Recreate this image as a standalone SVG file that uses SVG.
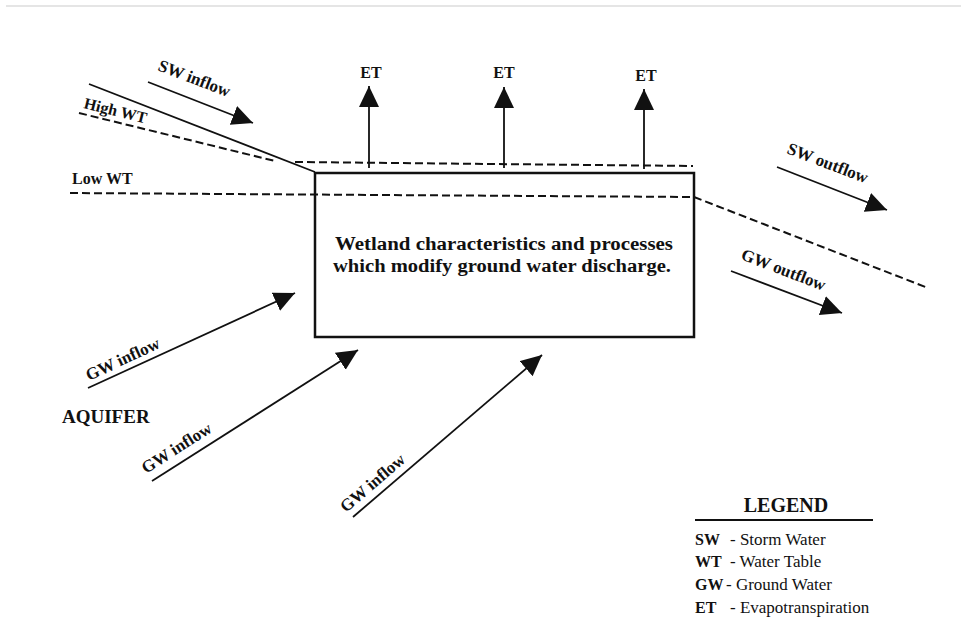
<svg xmlns="http://www.w3.org/2000/svg" width="961" height="635" viewBox="0 0 961 635">
  <style>
    .lbl { font-family: "Liberation Serif", "Times New Roman", serif; font-weight: bold; fill: #111; }
    .txt { font-family: "Liberation Serif", "Times New Roman", serif; fill: #111; }
    .flow { stroke: #111; stroke-width: 1.8; fill: none; marker-end: url(#head); }
    .wt { stroke: #111; stroke-width: 2; fill: none; stroke-dasharray: 8 4; }
    .ground { stroke: #111; stroke-width: 1.8; fill: none; }
  </style>
  <defs>
    <marker id="head" markerUnits="userSpaceOnUse" markerWidth="24" markerHeight="22" refX="21" refY="10" orient="auto">
      <path d="M0,0 L21,10 L0,20 z" fill="#111"/>
    </marker>
  </defs>

  <rect width="961" height="635" fill="#fff"/>
  <line x1="6" y1="6" x2="961" y2="6" stroke="#ddd" stroke-width="1.5"/>

  <!-- water table and land surface lines -->
  <g id="surfaces">
    <line class="ground" x1="89" y1="84" x2="315" y2="172"/>
    <line class="wt" x1="79" y1="113" x2="275" y2="161"/>
    <line class="wt" x1="295" y1="162" x2="693" y2="166"/>
    <line class="wt" x1="70" y1="193" x2="694" y2="197"/>
    <line class="wt" x1="694" y1="197" x2="928" y2="288"/>
  </g>

  <!-- wetland box -->
  <g id="wetland">
    <rect x="315" y="173" width="379" height="164" fill="none" stroke="#111" stroke-width="2.5"/>
    <text class="lbl" font-size="18" text-anchor="middle" x="504" y="250" textLength="338" lengthAdjust="spacingAndGlyphs">Wetland characteristics and processes</text>
    <text class="lbl" font-size="18" text-anchor="middle" x="502" y="272" textLength="338" lengthAdjust="spacingAndGlyphs">which modify ground water discharge.</text>
  </g>

  <!-- flow connectors -->
  <g id="connectors">
    <line class="flow" x1="148" y1="82" x2="253" y2="123"/>
    <line class="flow" x1="369" y1="168" x2="369" y2="86"/>
    <line class="flow" x1="504" y1="168" x2="504" y2="87"/>
    <line class="flow" x1="644" y1="169" x2="644" y2="89"/>
    <line class="flow" x1="777" y1="167" x2="887" y2="210"/>
    <line class="flow" x1="731" y1="271" x2="842" y2="313"/>
    <line class="flow" x1="88" y1="388" x2="295" y2="293"/>
    <line class="flow" x1="152" y1="481" x2="358" y2="350"/>
    <line class="flow" x1="353" y1="517" x2="542" y2="355"/>
  </g>

  <!-- labels -->
  <g id="labels">
    <text class="lbl" font-size="17" transform="translate(157,70) rotate(21)">SW inflow</text>
    <text class="lbl" font-size="16" transform="translate(83,108) rotate(14)">High WT</text>
    <text class="lbl" font-size="16" x="72" y="184">Low WT</text>
    <text class="lbl" font-size="16" text-anchor="middle" x="371" y="78">ET</text>
    <text class="lbl" font-size="16" text-anchor="middle" x="504" y="78">ET</text>
    <text class="lbl" font-size="16" text-anchor="middle" x="646" y="81">ET</text>
    <text class="lbl" font-size="17" transform="translate(786,153) rotate(21)">SW outflow</text>
    <text class="lbl" font-size="17" transform="translate(740,259) rotate(21)">GW outflow</text>
    <text class="lbl" font-size="17" transform="translate(89,381) rotate(-25)">GW inflow</text>
    <text class="lbl" font-size="17" transform="translate(146,474) rotate(-32.5)">GW inflow</text>
    <text class="lbl" font-size="17" transform="translate(346,513) rotate(-40.6)">GW inflow</text>
    <text class="lbl" font-size="19" x="62" y="423">AQUIFER</text>
  </g>

  <!-- legend -->
  <g id="legend">
    <text class="lbl" font-size="20" text-anchor="middle" x="786" y="512">LEGEND</text>
    <line x1="695" y1="520" x2="873" y2="520" stroke="#111" stroke-width="2"/>
    <text class="lbl" font-size="16" x="695" y="545">SW</text>
    <text class="txt" font-size="17" x="730" y="545">- Storm Water</text>
    <text class="lbl" font-size="16" x="695" y="567">WT</text>
    <text class="txt" font-size="17" x="730" y="567">- Water Table</text>
    <text class="lbl" font-size="16" x="695" y="590">GW</text>
    <text class="txt" font-size="17" x="726" y="590">- Ground Water</text>
    <text class="lbl" font-size="16" x="695" y="613">ET</text>
    <text class="txt" font-size="17" x="730" y="613">- Evapotranspiration</text>
  </g>
</svg>
